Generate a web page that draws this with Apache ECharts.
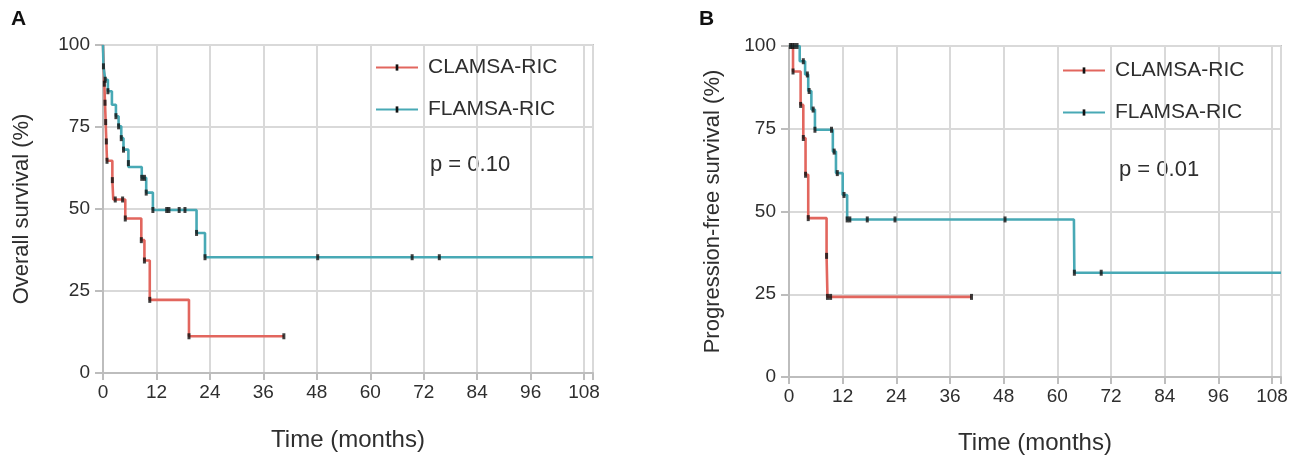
<!DOCTYPE html>
<html><head><meta charset="utf-8">
<script src="https://cdn.jsdelivr.net/npm/echarts@6/dist/echarts.min.js"></script>
<style>html,body{margin:0;padding:0;background:#fff}#c{width:1297px;height:463px}</style>
</head><body><div id="c"></div>
<script>
// ---- data ----
const groups = ['CLAMSA-RIC', 'FLAMSA-RIC'];
const xTickStep = 12;               // months
const yTickStep = 25;               // percent
const pValues = ['p = 0.10', 'p = 0.01'];
const panelLetters = ['A', 'B'];
const yTitles = ['Overall survival (%)', 'Progression-free survival (%)'];
const xTitle = 'Time (months)';

// Panel A: overall survival, step curves [time, %]
const osClamsa = [[0,100],[0.15,94.1],[0.3,88.2],[0.45,82.4],[0.6,76.5],[0.75,70.6],[0.9,64.7],[2.1,58.8],[2.3,52.9],[5.0,47.1],[8.6,40.5],[9.3,34.3],[10.5,22.3],[19.3,11.2],[40.6,11.2]];
const osClamsaCens = [[0.3,88.2],[0.45,82.4],[0.6,76.5],[0.75,70.6],[0.9,64.7],[2.1,58.8],[2.75,52.9],[4.4,52.9],[5.0,47.1],[8.6,40.5],[9.3,34.3],[10.5,22.3],[19.3,11.2],[40.6,11.2]];
const osFlamsa = [[0,100],[0.1,93.5],[0.5,89.4],[1.1,85.9],[2.0,81.8],[2.9,78.3],[3.5,75.2],[4.1,71.6],[4.6,68.1],[5.7,62.8],[8.7,59.5],[9.7,55.0],[11.2,49.7],[21.0,42.7],[22.9,35.3],[110,35.3]];
const osFlamsaCens = [[0.1,93.5],[0.5,89.4],[1.1,85.9],[2.9,78.3],[3.5,75.2],[4.1,71.6],[4.6,68.1],[5.7,64.0],[8.7,59.5],[9.3,59.5],[9.7,55.0],[11.2,49.7],[14.3,49.7],[14.8,49.7],[17.1,49.7],[18.4,49.7],[21.0,42.7],[22.9,35.3],[48.2,35.3],[69.4,35.3],[75.5,35.3]];

// Panel B: progression-free survival
const pfsClamsa = [[0,100],[0.9,92.3],[2.6,82.2],[3.2,72.2],[3.7,61.1],[4.3,48.0],[8.4,36.6],[8.6,24.2],[40.8,24.2]];
const pfsClamsaCens = [[0.3,100],[0.7,100],[0.9,92.3],[2.6,82.2],[3.2,72.2],[3.7,61.1],[4.3,48.0],[8.4,36.6],[8.6,24.2],[9.3,24.2],[40.8,24.2]];
const pfsFlamsa = [[0,100],[2.4,95.4],[3.6,91.4],[4.3,86.4],[5.0,80.8],[5.8,74.7],[9.8,68.1],[10.5,61.6],[12.0,55.0],[13.0,47.6],[63.7,47.6],[63.8,31.5],[110,31.5]];
const pfsFlamsaCens = [[1.2,100],[1.8,100],[3.2,95.4],[4.1,91.4],[4.5,86.4],[5.4,80.8],[5.8,74.7],[9.5,74.7],[10.1,68.1],[10.8,61.6],[12.3,55.0],[13.0,47.6],[13.6,47.6],[17.5,47.6],[23.7,47.6],[48.3,47.6],[63.8,31.5],[69.8,31.5]];

// ---- styles ----
const RED = '#e2665e', TEAL = '#48a9b5', TXT = '#2e2e2e';
const FONT = 'Liberation Sans, Arial, sans-serif';
// thin vertical tick inside a 9x9 box (the invisible moves keep the box square)
const TICK_SYMBOL = 'path://M0,0 M9,9 M3,1 L6,1 L6,8 L3,8 Z';

const grids = [
  {left: 103, right: 704, top: 45, bottom: 90},
  {left: 789, right: 16, top: 46, bottom: 86}
];

function xAxis(i) {
  return {
    type: 'value', gridIndex: i, min: 0, max: 110, interval: xTickStep,
    name: xTitle, nameLocation: 'middle', nameGap: i === 0 ? 55 : 54,
    nameTextStyle: {fontSize: 24, color: TXT, fontFamily: FONT},
    axisLine: {show: true, lineStyle: {color: '#bdbdbd', width: 2}},
    axisTick: {show: true, length: 7, lineStyle: {color: '#bdbdbd', width: 2}},
    axisLabel: {fontSize: 19, color: TXT, fontFamily: FONT, margin: 10,
      formatter: v => (v % xTickStep === 0 ? String(v) : '')},
    splitLine: {show: true, lineStyle: {color: '#d9d9d9', width: 2}}
  };
}
function yAxis(i) {
  return {
    type: 'value', gridIndex: i, min: 0, max: 100, interval: yTickStep,
    name: yTitles[i], nameLocation: 'middle', nameGap: i === 0 ? 70 : 65,
    nameTextStyle: {fontSize: 22, color: TXT, fontFamily: FONT},
    axisLine: {show: true, lineStyle: {color: '#bdbdbd', width: 2}},
    axisTick: {show: true, length: 8, lineStyle: {color: '#bdbdbd', width: 2}},
    axisLabel: {fontSize: 19, color: TXT, fontFamily: FONT, margin: 13},
    splitLine: {show: true, lineStyle: {color: '#d9d9d9', width: 2}}
  };
}
function curve(name, data, color, i) {
  return {
    name, type: 'line', step: 'end', data, xAxisIndex: i, yAxisIndex: i,
    symbol: TICK_SYMBOL, symbolSize: 8, showSymbol: false,
    itemStyle: {color: '#111'}, lineStyle: {color, width: 2.6},
    emphasis: {disabled: true}, animation: false, z: 2
  };
}
function marks(data, i) {
  return {
    type: 'scatter', data, xAxisIndex: i, yAxisIndex: i, clip: false,
    symbol: 'rect', symbolSize: [3, 6], itemStyle: {color: '#111'},
    emphasis: {disabled: true}, animation: false, z: 5, silent: true
  };
}
function legend(i, left, top) {
  return {
    data: groups, left, top, orient: 'vertical', itemGap: 21,
    itemWidth: 42, itemHeight: 10, selectedMode: false,
    textStyle: {fontSize: 21, color: TXT, fontFamily: FONT, padding: [0, 0, 0, 5]}
  };
}

const chart = echarts.init(document.getElementById('c'));
chart.setOption({
  animation: false,
  grid: grids.map(g => Object.assign({show: true, borderColor: '#c4c4c4', borderWidth: 2, backgroundColor: 'transparent'}, g)),
  xAxis: [xAxis(0), xAxis(1)],
  yAxis: [yAxis(0), yAxis(1)],
  legend: [legend(0, 370, 52), legend(1, 1057, 55)],
  series: [
    curve(groups[0], osClamsa, RED, 0),
    curve(groups[1], osFlamsa, TEAL, 0),
    marks(osClamsaCens, 0), marks(osFlamsaCens, 0),
    curve(groups[0], pfsClamsa, RED, 1),
    curve(groups[1], pfsFlamsa, TEAL, 1),
    marks(pfsClamsaCens, 1), marks(pfsFlamsaCens, 1)
  ],
  graphic: [
    {type: 'text', left: 11, top: 9, style: {text: panelLetters[0], fontSize: 21, fontWeight: 'bold', fill: '#111', fontFamily: FONT}},
    {type: 'text', left: 699, top: 9, style: {text: panelLetters[1], fontSize: 21, fontWeight: 'bold', fill: '#111', fontFamily: FONT}},
    {type: 'text', left: 430, top: 154, style: {text: pValues[0], fontSize: 22, fill: TXT, fontFamily: FONT}},
    {type: 'text', left: 1119, top: 159, style: {text: pValues[1], fontSize: 22, fill: TXT, fontFamily: FONT}}
  ]
});
</script></body></html>
